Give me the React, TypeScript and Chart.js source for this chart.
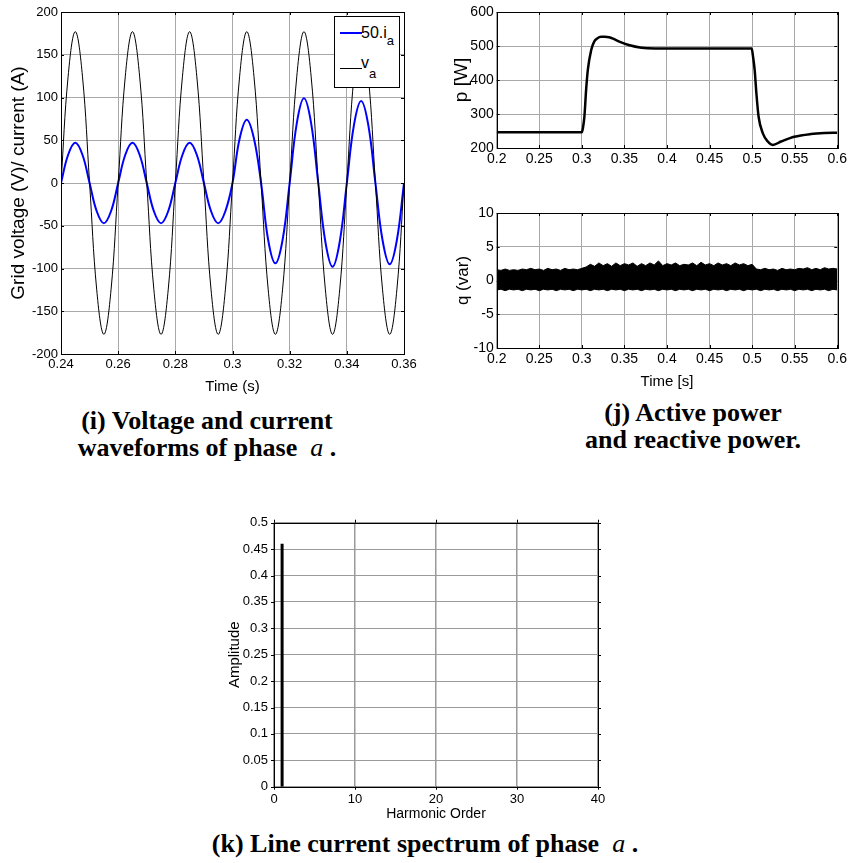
import React, { useEffect, useRef } from 'react';
import { Chart, registerables } from 'chart.js';
Chart.register(...registerables);

// ---------- (i) voltage & current of phase a ----------
const VI_TIME = [0.24, 0.2425, 0.245, 0.2475, 0.25, 0.2525, 0.255, 0.2575, 0.26, 0.2625, 0.265, 0.2675, 0.27, 0.2725, 0.275, 0.2775, 0.28, 0.2825, 0.285, 0.2875, 0.29, 0.2925, 0.295, 0.2975, 0.3, 0.3025, 0.305, 0.3075, 0.31, 0.3125, 0.315, 0.3175, 0.32, 0.3225, 0.325, 0.3275, 0.33, 0.3325, 0.335, 0.3375, 0.34, 0.3425, 0.345, 0.3475, 0.35, 0.3525, 0.355, 0.3575, 0.36];
const V_A = [0, 125, 177, 125, 0, -125, -177, -125, 0, 125, 177, 125, 0, -125, -177, -125, 0, 125, 177, 125, 0, -125, -177, -125, 0, 125, 177, 125, 0, -125, -177, -125, 0, 125, 177, 125, 0, -125, -177, -125, 0, 125, 177, 125, 0, -125, -177, -125, 0];
const I_A50 = [0, 33, 47, 33, 0, -33, -47, -33, 0, 33, 47, 33, 0, -33, -47, -33, 0, 33, 47, 33, 0, -33, -47, -33, 0, 52, 74, 52, 0, -67, -94, -67, 0, 70, 99, 70, 0, -69, -98, -69, 0, 68, 96, 68, 0, -67, -95, -67, 0];

// ---------- (j) active power ----------
const P_TIME = [0.2, 0.3, 0.3015, 0.303, 0.305, 0.307, 0.311, 0.3145, 0.318, 0.3225, 0.327, 0.332, 0.338, 0.344, 0.355, 0.37, 0.386, 0.4, 0.45, 0.4995, 0.501, 0.503, 0.505, 0.5076, 0.5126, 0.5184, 0.5243, 0.534, 0.5495, 0.569, 0.585, 0.6];
const P_W = [246, 246, 262, 292, 370, 429, 488, 513, 522, 527, 527, 526, 520, 513, 503, 495, 493, 493, 493, 493, 470, 429, 361, 292, 243, 219, 209, 219, 233, 241, 244, 245];

// ---------- (j) reactive power (ripple envelope) ----------
const Q_TIME = [0.2, 0.205, 0.21, 0.215, 0.22, 0.225, 0.23, 0.235, 0.24, 0.245, 0.25, 0.255, 0.26, 0.265, 0.27, 0.275, 0.28, 0.285, 0.29, 0.295, 0.3,
  0.305, 0.31, 0.315, 0.32, 0.325, 0.33, 0.335, 0.34, 0.345, 0.35, 0.355, 0.36, 0.365, 0.37, 0.375, 0.38, 0.385, 0.39, 0.395, 0.4, 0.405, 0.41, 0.415, 0.42, 0.425, 0.43, 0.435, 0.44, 0.445, 0.45, 0.455, 0.46, 0.465, 0.47, 0.475, 0.48, 0.485, 0.49, 0.495, 0.5,
  0.505, 0.51, 0.515, 0.52, 0.525, 0.53, 0.535, 0.54, 0.545, 0.55, 0.555, 0.56, 0.565, 0.57, 0.575, 0.58, 0.585, 0.59, 0.595, 0.6];
const Q_UPPER = [1.6, 1.5, 1.7, 1.5, 1.6, 1.5, 1.7, 1.6, 1.8, 1.6, 1.7, 1.5, 1.8, 1.6, 1.7, 1.5, 1.8, 1.6, 1.7, 1.6, 1.8,
  2.0, 2.4, 2.1, 2.6, 2.2, 2.5, 2.1, 2.6, 2.2, 2.5, 2.3, 2.6, 2.1, 2.5, 2.2, 2.6, 2.3, 2.9, 2.2, 2.5, 2.3, 2.6, 2.2, 2.4, 2.3, 2.6, 2.2, 2.7, 2.3, 2.5, 2.2, 2.6, 2.3, 2.5, 2.2, 2.6, 2.3, 2.5, 2.2, 2.4,
  1.7, 1.6, 1.8, 1.6, 1.7, 1.5, 1.8, 1.6, 1.7, 1.6, 1.8, 1.7, 1.9, 1.6, 1.8, 1.6, 1.9, 1.7, 1.8, 1.7];
const Q_LOWER = [-1.4, -1.3, -1.5, -1.3, -1.4, -1.3, -1.5, -1.3, -1.4, -1.3, -1.5, -1.3, -1.4, -1.3, -1.5, -1.3, -1.4, -1.3, -1.5, -1.3, -1.4,
  -1.3, -1.5, -1.3, -1.4, -1.3, -1.5, -1.3, -1.4, -1.3, -1.5, -1.3, -1.4, -1.3, -1.5, -1.3, -1.4, -1.3, -1.5, -1.3, -1.4, -1.3, -1.5, -1.3, -1.4, -1.3, -1.5, -1.3, -1.4, -1.3, -1.5, -1.3, -1.4, -1.3, -1.5, -1.3, -1.4, -1.3, -1.5, -1.3,
  -1.4, -1.3, -1.5, -1.3, -1.4, -1.3, -1.5, -1.3, -1.4, -1.3, -1.5, -1.3, -1.4, -1.3, -1.5, -1.3, -1.4, -1.3, -1.5, -1.3, -1.4];

// ---------- (k) spectrum ----------
const HARM_ORDER = [1];
const HARM_AMP = [0.46];

const SANS = '"Liberation Sans", Arial, Helvetica, sans-serif';
const SERIF = '"Liberation Serif", "Times New Roman", Times, serif';
const GRID = '#a8a8a8';

const fmt = (v: any) => String(+(+v).toFixed(3));

const makeFrame = (tickLen: number) => ({
  id: 'frame',
  afterDatasetsDraw(chart: any) {
    const { ctx, chartArea: a, scales } = chart;
    const xs = scales.x, ys = scales.y;
    ctx.save();
    ctx.strokeStyle = '#000';
    ctx.lineWidth = 1;
    ctx.beginPath();
    xs.ticks.forEach((t: any) => {
      const px = Math.round(xs.getPixelForValue(t.value)) + 0.5;
      ctx.moveTo(px, a.bottom); ctx.lineTo(px, a.bottom - tickLen);
      ctx.moveTo(px, a.top); ctx.lineTo(px, a.top + tickLen);
    });
    ys.ticks.forEach((t: any) => {
      const py = Math.round(ys.getPixelForValue(t.value)) + 0.5;
      ctx.moveTo(a.left, py); ctx.lineTo(a.left + tickLen, py);
      ctx.moveTo(a.right, py); ctx.lineTo(a.right - tickLen, py);
    });
    ctx.stroke();
    ctx.strokeRect(Math.round(a.left) + 0.5, Math.round(a.top) + 0.5, Math.round(a.right - a.left), Math.round(a.bottom - a.top));
    ctx.restore();
  },
});

function axis(min: number, max: number, step: number, opts: any) {
  return {
    type: 'linear',
    min,
    max,
    offset: false,
    ticks: { stepSize: step, color: '#000', font: { family: SANS, size: opts.tickSize || 13 }, padding: opts.tickPad ?? 3, callback: fmt, maxRotation: 0, autoSkip: false },
    grid: { color: opts.gridColor || GRID, lineWidth: opts.gridWidth || 1, drawTicks: false, offset: false },
    border: { display: false },
    title: opts.title
      ? { display: true, text: opts.title, color: '#000', padding: 0, font: { family: SANS, size: opts.titleSize || 14 } }
      : { display: false },
    afterFit: (s: any) => {
      if (opts.width !== undefined) s.width = opts.width;
      if (opts.height !== undefined) s.height = opts.height;
    },
  };
}

const baseOpts = (padding: any) => ({
  animation: false,
  responsive: false,
  events: [],
  layout: { padding },
  plugins: { legend: { display: false }, tooltip: { enabled: false } },
});

export default function App() {
  const rI = useRef<HTMLCanvasElement>(null);
  const rP = useRef<HTMLCanvasElement>(null);
  const rQ = useRef<HTMLCanvasElement>(null);
  const rK = useRef<HTMLCanvasElement>(null);

  useEffect(() => {
    const charts: Chart[] = [];
    charts.push(new Chart(rI.current as HTMLCanvasElement, {
      type: 'line',
      data: {
        datasets: [
          { label: 'v_a', data: VI_TIME.map((t, i) => ({ x: t, y: V_A[i] })), borderColor: '#000', borderWidth: 1, pointRadius: 0, tension: 0.4 },
          { label: '50.i_a', data: VI_TIME.map((t, i) => ({ x: t, y: I_A50[i] })), borderColor: '#0000ff', borderWidth: 2, pointRadius: 0, tension: 0.4 },
        ],
      } as any,
      options: {
        ...baseOpts({ left: 7.6, right: 26, top: 12, bottom: 0 }),
        scales: {
          x: axis(0.24, 0.36, 0.02, { title: 'Time (s)', titleSize: 15, height: 42 }),
          y: axis(-200, 200, 50, { title: 'Grid voltage (V)/ current (A)', titleSize: 19, width: 53.4 }),
        },
      } as any,
      plugins: [makeFrame(3)],
    }));

    charts.push(new Chart(rP.current as HTMLCanvasElement, {
      type: 'line',
      data: {
        datasets: [
          { label: 'p', data: P_TIME.map((t, i) => ({ x: t, y: P_W[i] })), borderColor: '#000', borderWidth: 2.5, pointRadius: 0, cubicInterpolationMode: 'monotone' },
        ],
      } as any,
      options: {
        ...baseOpts({ left: 20.6, right: 10, top: 12, bottom: 0 }),
        scales: {
          x: axis(0.2, 0.6, 0.05, { height: 27, tickSize: 14 }),
          y: axis(200, 600, 100, { title: 'p [W]', titleSize: 19, width: 46.1, tickSize: 14 }),
        },
      } as any,
      plugins: [makeFrame(3)],
    }));

    charts.push(new Chart(rQ.current as HTMLCanvasElement, {
      type: 'line',
      data: {
        datasets: [
          { label: 'q+', data: Q_TIME.map((t, i) => ({ x: t, y: Q_UPPER[i] })), borderColor: '#000', backgroundColor: '#000', borderWidth: 1, pointRadius: 0, tension: 0, fill: '+1' },
          { label: 'q-', data: Q_TIME.map((t, i) => ({ x: t, y: Q_LOWER[i] })), borderColor: '#000', borderWidth: 1, pointRadius: 0, tension: 0, fill: false },
        ],
      } as any,
      options: {
        ...baseOpts({ left: 22.8, right: 10, top: 23, bottom: 0 }),
        scales: {
          x: axis(0.2, 0.6, 0.05, { title: 'Time [s]', titleSize: 15, height: 43, tickSize: 14 }),
          y: axis(-10, 10, 5, { title: 'q (var)', titleSize: 17, width: 43.9, tickSize: 14 }),
        },
      } as any,
      plugins: [makeFrame(3)],
    }));

    // spectrum: each harmonic drawn as a vertical stem from 0 to its amplitude
    const stems: any[] = [];
    HARM_ORDER.forEach((h, i) => {
      stems.push({ x: h, y: 0 }, { x: h, y: HARM_AMP[i] }, { x: h, y: null });
    });
    charts.push(new Chart(rK.current as HTMLCanvasElement, {
      type: 'line',
      data: {
        datasets: [
          { label: 'Amplitude', data: stems, borderColor: '#000', borderWidth: 3, borderCapStyle: 'butt', pointRadius: 0, spanGaps: false },
        ],
      } as any,
      options: {
        ...baseOpts({ left: 26, right: 32, top: 32.7, bottom: 0 }),
        scales: {
          x: axis(0, 40, 10, { title: 'Harmonic Order', titleSize: 14, height: 36.3, tickPad: 5, gridColor: '#9a9a9a', gridWidth: 1.5 }),
          y: axis(0, 0.5, 0.05, { title: 'Amplitude', titleSize: 15, width: 48, tickPad: 6, gridColor: '#9a9a9a' }),
        },
      } as any,
      plugins: [makeFrame(-3)],
    }));

    return () => charts.forEach((c) => c.destroy());
  }, []);

  const cv = (l: number, t: number, w: number, h: number) => ({ position: 'absolute' as const, left: l, top: t, width: w, height: h, display: 'block' });
  const cap = { position: 'absolute' as const, fontFamily: SERIF, fontWeight: 700, fontSize: 26, lineHeight: '27px', textAlign: 'center' as const, color: '#000', whiteSpace: 'nowrap' as const };
  const ital = { fontStyle: 'italic', fontWeight: 400 };

  return (
    <div style={{ position: 'absolute', left: 0, top: 0, width: 850, height: 863, background: '#fff', overflow: 'hidden' }}>
      <canvas ref={rI} width={430} height={396} style={cv(0, 0, 430, 396)} />
      <canvas ref={rP} width={420} height={175} style={cv(430, 0, 420, 175)} />
      <canvas ref={rQ} width={420} height={201} style={cv(430, 190, 420, 201)} />
      <canvas ref={rK} width={430} height={333} style={cv(200, 490, 430, 333)} />

      {/* legend of (i) */}
      <div style={{ position: 'absolute', left: 334, top: 16, width: 66, height: 72, border: '1px solid #000', background: '#fff', boxSizing: 'border-box', fontFamily: SANS, fontSize: 16, color: '#000' }}>
        <div style={{ position: 'absolute', left: 5, top: 15, width: 22, height: 2, background: '#0000ff' }} />
        <span style={{ position: 'absolute', left: 26, top: 7, lineHeight: '18px', whiteSpace: 'nowrap' }}>50.i<span style={{ fontSize: 13, position: 'relative', top: 7 }}>a</span></span>
        <div style={{ position: 'absolute', left: 5, top: 51, width: 22, height: 1, background: '#000' }} />
        <span style={{ position: 'absolute', left: 26, top: 37, lineHeight: '18px', whiteSpace: 'nowrap' }}>v<span style={{ fontSize: 13, position: 'relative', top: 10 }}>a</span></span>
      </div>

      <div style={{ ...cap, left: 0, width: 414, top: 406.5 }}>
        (i) Voltage and current<br />waveforms of phase&nbsp;&nbsp;<span style={ital}>a</span> .
      </div>
      <div style={{ ...cap, left: 486, width: 414, top: 398.5 }}>
        (j) Active power<br />and reactive power.
      </div>
      <div style={{ ...cap, left: 0, width: 850, top: 829.5 }}>
        (k) Line current spectrum of phase&nbsp;&nbsp;<span style={ital}>a</span> .
      </div>
    </div>
  );
}
